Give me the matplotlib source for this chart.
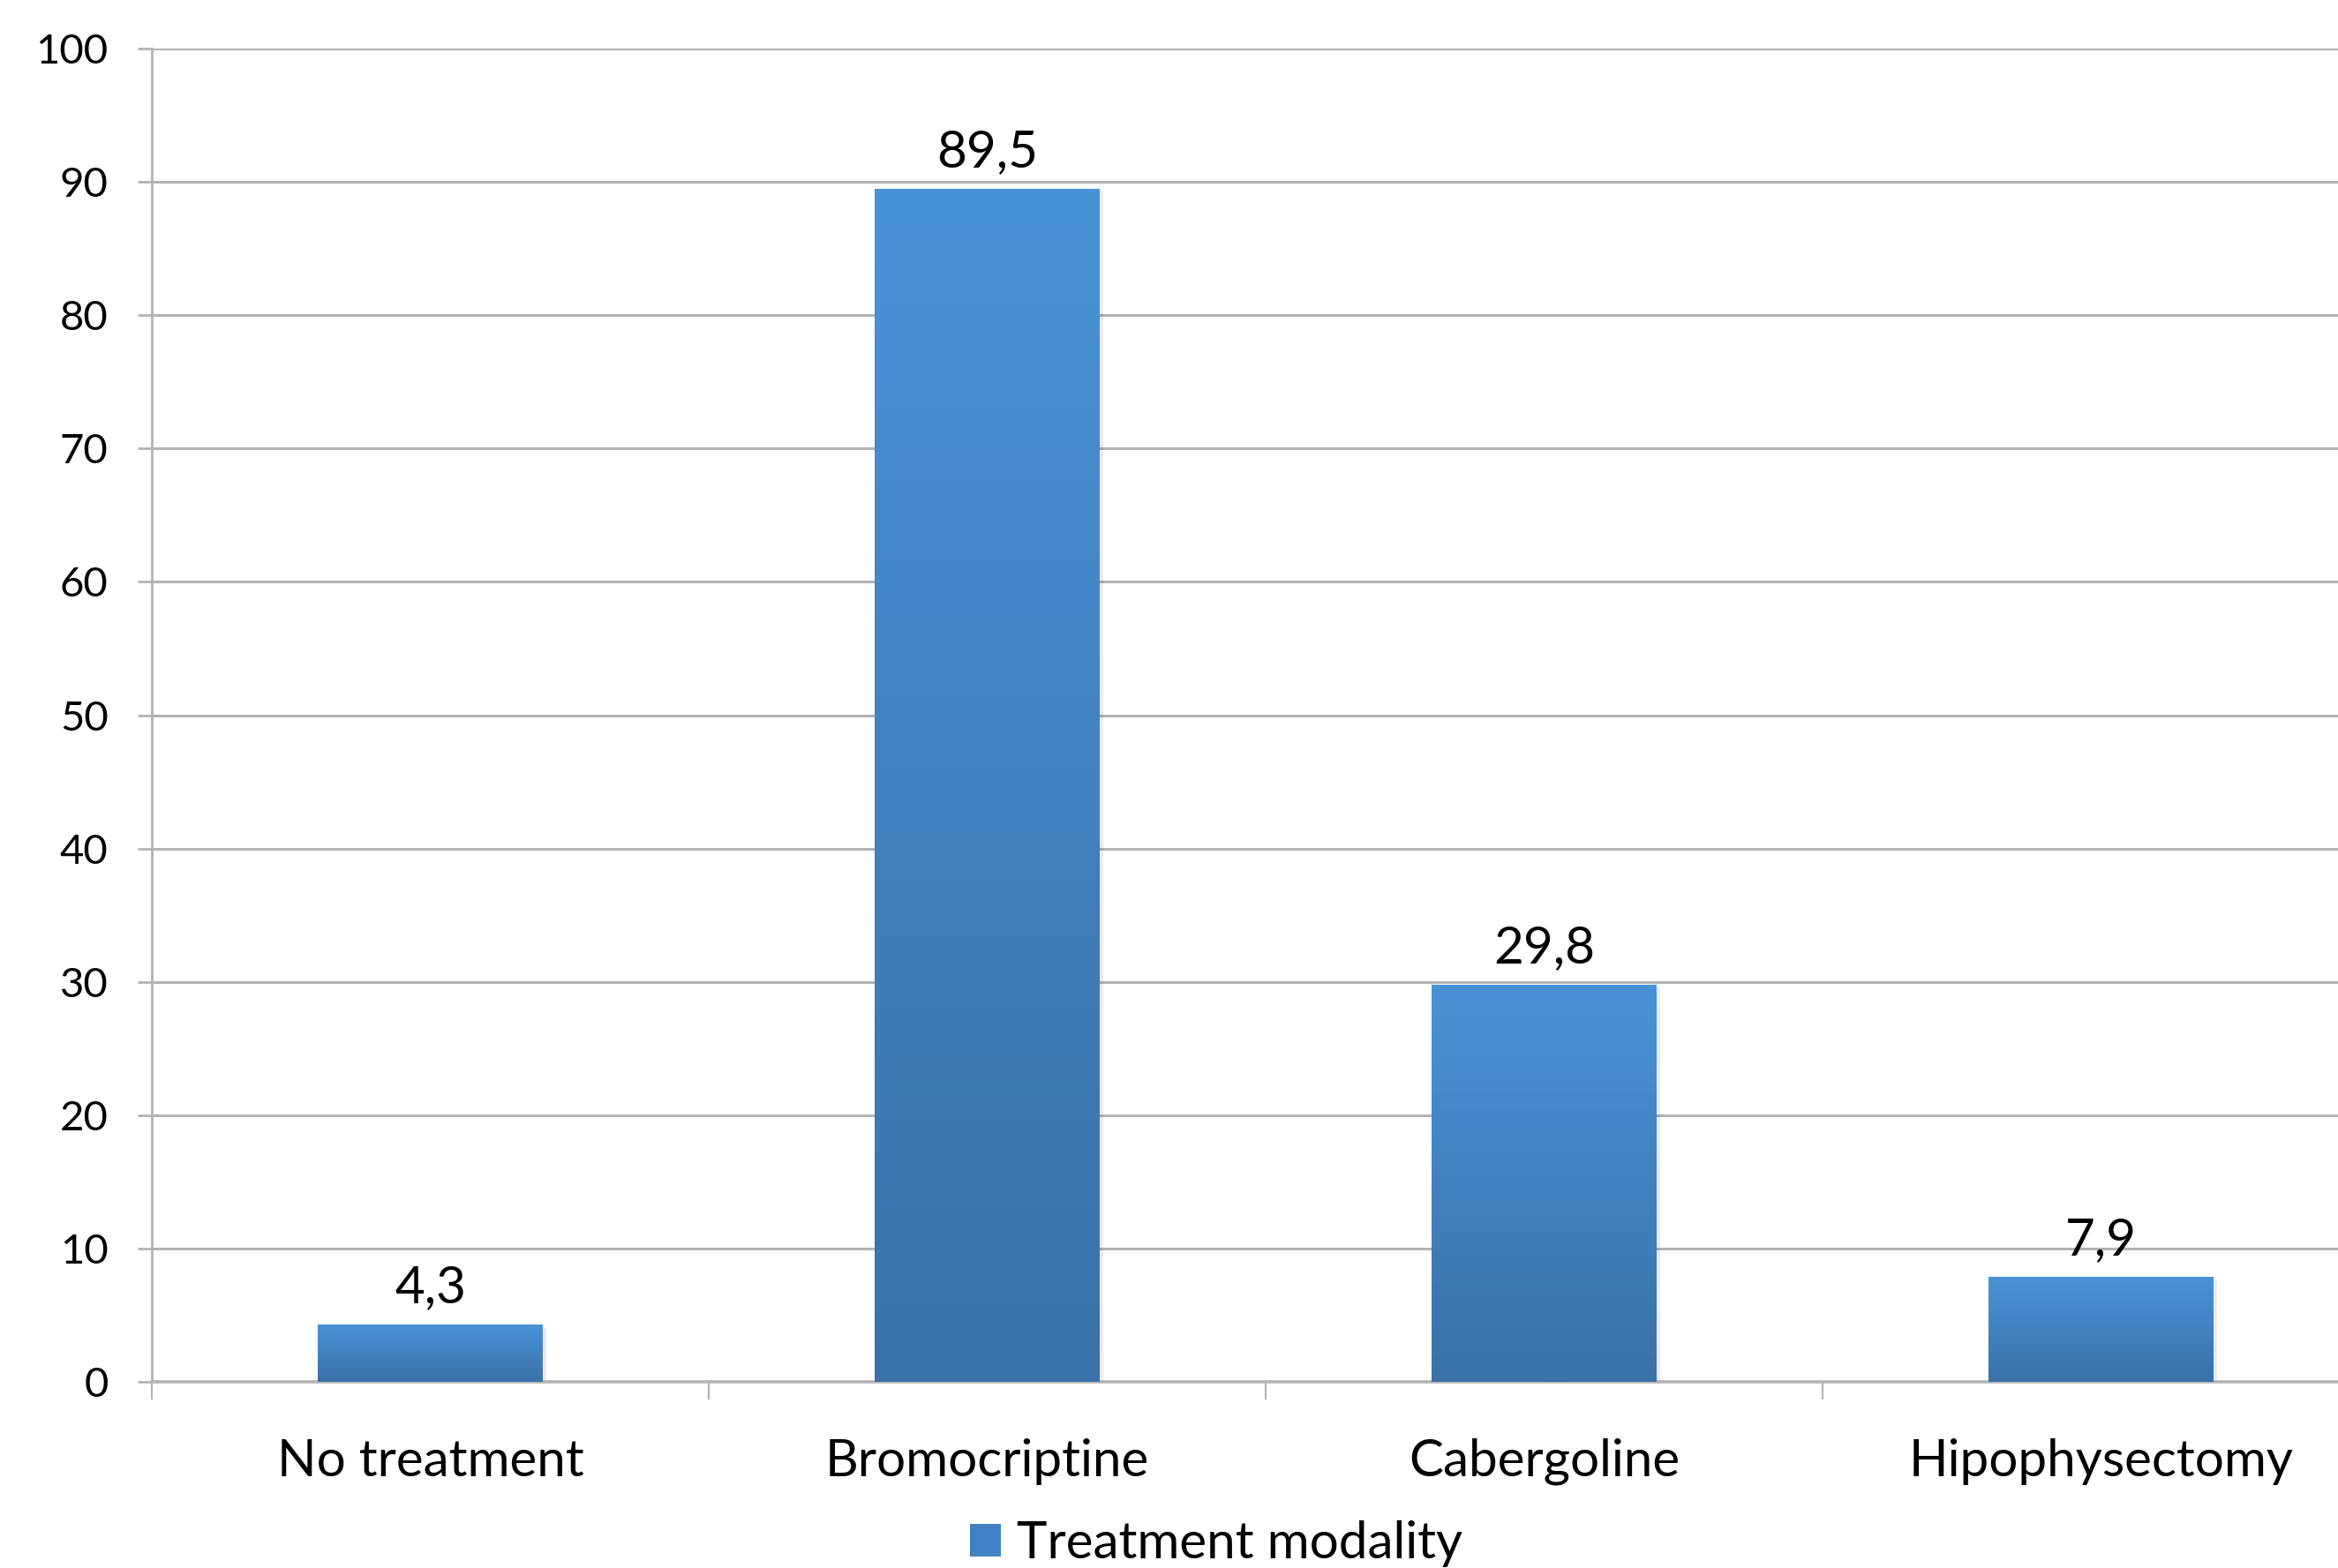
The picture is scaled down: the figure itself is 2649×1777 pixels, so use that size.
import matplotlib.pyplot as plt
import numpy as np
from matplotlib.colors import LinearSegmentedColormap
from matplotlib.patches import Patch

plt.rcParams['font.family'] = ['Lato', 'DejaVu Sans']

categories = ['No treatment', 'Bromocriptine', 'Cabergoline', 'Hipophysectomy']
values = [4.3, 89.5, 29.8, 7.9]
value_labels = ['4,3', '89,5', '29,8', '7,9']
yticks = [0, 10, 20, 30, 40, 50, 60, 70, 80, 90, 100]
series_name = 'Treatment modality'

W, H = 2649, 1777
fig = plt.figure(figsize=(W / 100, H / 100), dpi=100)
ax = fig.add_axes([172 / W, (H - 1566) / H, 2524 / W, 1511 / H])

bar_w = 0.404
cmap = LinearSegmentedColormap.from_list('barfade', ['#3a71a8', '#4a92d8'])
grad = np.linspace(0, 1, 256).reshape(-1, 1)

x = np.arange(len(categories))
bars = ax.bar(x, values, width=bar_w, color='none', edgecolor='none', zorder=3)
for b in bars:
    x0, w, h = b.get_x(), b.get_width(), b.get_height()
    # soft shadow
    ax.bar(x0 + w / 2 + 0.006, h, width=w, bottom=-0.25, color='#000000',
           alpha=0.08, zorder=2)
    im = ax.imshow(grad, cmap=cmap, origin='lower', aspect='auto',
                   extent=[x0, x0 + w, 0, h], zorder=3)
    im.set_clip_path(b)

for xi, v, lab in zip(x, values, value_labels):
    ax.annotate(lab, (xi, v), xytext=(0, 18), textcoords='offset points',
                ha='center', va='baseline', fontsize=42, zorder=5)

ax.set_xlim(-0.5, len(categories) - 0.5)
ax.set_ylim(0, 100)
ax.set_yticks(yticks)
ax.set_yticklabels([str(t) for t in yticks])
ax.set_xticks(x)
ax.set_xticklabels(categories)
ax.set_xticks(np.arange(-0.5, len(categories), 1.0), minor=True)

ax.grid(axis='y', color='#b3b3b3', linewidth=2.2, zorder=0)
ax.set_axisbelow(True)
for s in ['top', 'right']:
    ax.spines[s].set_visible(False)
ax.spines['left'].set_color('#b3b3b3')
ax.spines['left'].set_linewidth(2)
ax.spines['bottom'].set_color('#b3b3b3')
ax.spines['bottom'].set_linewidth(2.6)

ax.tick_params(axis='y', length=11.5, width=2, color='#b3b3b3', pad=24, labelsize=34)
for t in ax.get_yticklabels():
    t.set_va('center_baseline')
ax.tick_params(axis='x', which='major', length=0, pad=46, labelsize=42)
ax.tick_params(axis='x', which='minor', length=14.4, width=1.5, color='#b3b3b3')

fig.legend(handles=[Patch(facecolor='#4282c4', label=series_name)],
           loc='center', bbox_to_anchor=(1378 / W, 1 - 1750 / H),
           frameon=False, fontsize=42, handlelength=0.6, handleheight=0.6,
           handletextpad=0.3, borderpad=0)

fig.savefig('out.png', dpi=100)
